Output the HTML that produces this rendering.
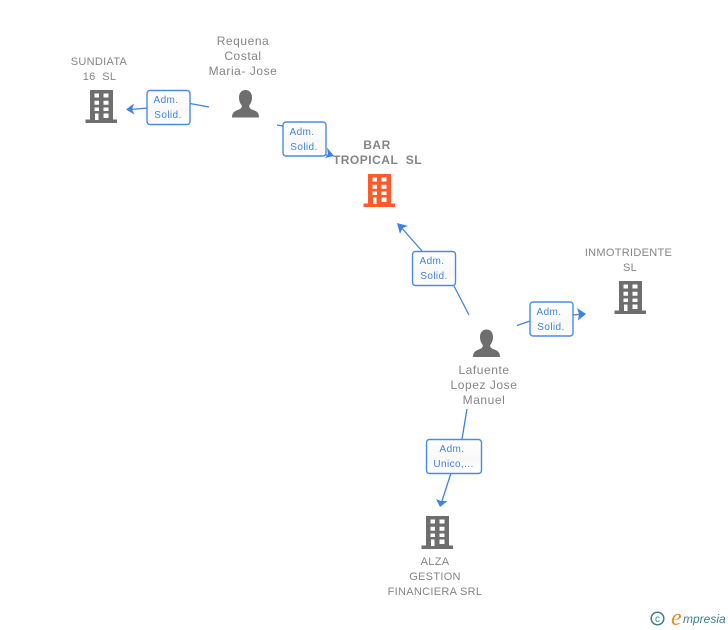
<!DOCTYPE html>
<html>
<head>
<meta charset="utf-8">
<style>
html,body{margin:0;padding:0;background:#fff}
body{width:728px;height:630px;overflow:hidden}
svg{display:block}
.n{font-family:"Liberation Sans",sans-serif;font-size:12px;fill:#858585;text-anchor:middle;letter-spacing:.55px;white-space:pre}
.s{font-size:11px;letter-spacing:.3px}
.b{font-weight:bold;letter-spacing:.5px}
.e{font-family:"Liberation Sans",sans-serif;font-size:10px;fill:#3f82e0;text-anchor:middle;letter-spacing:.4px}
.box{fill:url(#g);stroke:#4a8ae6;stroke-width:1.4}
.l{stroke:#3f82e0;stroke-width:1.3;fill:none}
.a{fill:#3f82e0}
</style>
</head>
<body>
<svg width="728" height="630" viewBox="0 0 728 630" xmlns="http://www.w3.org/2000/svg">
<defs>
<linearGradient id="g" x1="0" y1="0" x2="0" y2="1">
<stop offset="0" stop-color="#ffffff"/><stop offset=".6" stop-color="#f8f8f8"/><stop offset="1" stop-color="#ffffff"/>
</linearGradient>
<g id="bd">
<path fill-rule="evenodd" d="M5 0H28V29.500H32V33H0.500V29.500H5ZM9.500 3.500V7.500H14V3.500ZM18.500 3.500V7.500H23.500V3.500ZM9.500 10.700V14.700H14V10.700ZM18.500 10.700V14.700H23.500V10.700ZM9.500 17.500V21H14V17.500ZM18.500 17.500V21H23.500V17.500ZM10 23.500V30H13.500V23.500ZM18.500 23.500V28H23.500V23.500Z"/>
</g>
<g id="pr">
<path d="M13.500 0C17.500 0 20 3 20 7.500C20 11 18.800 13.500 17.200 15.500C17 17.500 18 18.500 20 19.500C24 21 27 22 27 27.500H0C0 22 3 21 7 19.500C9 18.500 10 17.500 9.800 15.500C8.200 13.500 7 11 7 7.500C7 3 9.500 0 13.500 0Z"/>
</g>
</defs>

<path class="l" d="M190 103.500L209 107"/>
<path class="l" d="M148 108L130 109.500"/>
<path class="a" d="M126 109.500L134 103.500L132 109.300L134.500 114.500Z"/>
<path class="l" d="M277 125L283 126"/>
<path class="l" d="M326 155L331 155.500"/>
<path class="a" d="M334 156L325 158L328 154.500L327 147.500Z"/>
<path class="l" d="M400 226L422 251"/>
<path class="a" d="M397 223L408 226L402.500 228L400 234Z"/>
<path class="l" d="M454 286L469 315"/>
<path class="l" d="M517 325.500L530 321"/>
<path class="l" d="M573 315L583 314"/>
<path class="a" d="M586 314L577 308L579 314L578 320.500Z"/>
<path class="l" d="M467 409L462 439"/>
<path class="l" d="M451 473L441 504"/>
<path class="a" d="M440 507L436 499L441 501L447.500 501Z"/>

<rect class="box" x="147" y="90.500" width="43" height="34" rx="3"/>
<rect class="box" x="283" y="122" width="43" height="34" rx="3"/>
<rect class="box" x="412.500" y="251.500" width="43" height="34" rx="3"/>
<rect class="box" x="530" y="302" width="43" height="34" rx="3"/>
<rect class="box" x="426.500" y="439.500" width="55" height="34" rx="3"/>

<text class="e" x="166" y="103">Adm.</text><text class="e" x="168" y="118">Solid.</text>
<text class="e" x="302" y="135">Adm.</text><text class="e" x="304" y="150">Solid.</text>
<text class="e" x="432" y="264">Adm.</text><text class="e" x="434" y="279">Solid.</text>
<text class="e" x="549" y="315">Adm.</text><text class="e" x="551" y="330">Solid.</text>
<text class="e" x="452" y="452">Adm.</text><text class="e" x="453.500" y="467">Unico,...</text>

<use href="#bd" x="85" y="90" fill="#6e6e6e"/>
<use href="#bd" x="363" y="174" fill="#ff5a2b"/>
<use href="#bd" x="614" y="281" fill="#6e6e6e"/>
<use href="#bd" x="421" y="516" fill="#6e6e6e"/>
<use href="#pr" x="232" y="90" fill="#6e6e6e"/>
<use href="#pr" x="473" y="329.500" fill="#6e6e6e"/>

<text class="n s" x="99" y="65">SUNDIATA</text>
<text class="n s" x="99.500" y="80">16  SL</text>
<text class="n" x="243" y="45">Requena</text>
<text class="n" x="243" y="60">Costal</text>
<text class="n" x="243" y="75">Maria- Jose</text>
<text class="n b" x="377" y="149">BAR</text>
<text class="n b" x="377.500" y="164">TROPICAL  SL</text>
<text class="n s" x="628.500" y="256">INMOTRIDENTE</text>
<text class="n s" x="630" y="271">SL</text>
<text class="n" x="484" y="374">Lafuente</text>
<text class="n" x="484" y="389">Lopez Jose</text>
<text class="n" x="484" y="404">Manuel</text>
<text class="n s" x="435" y="565">ALZA</text>
<text class="n s" x="435" y="580">GESTION</text>
<text class="n s" x="435" y="595">FINANCIERA SRL</text>

<circle cx="657.500" cy="618.500" r="6.300" fill="none" stroke="#3d7f8f" stroke-width="1.500"/>
<text x="657.500" y="622" font-family="Liberation Sans,sans-serif" font-size="10" fill="#3d7f8f" text-anchor="middle">c</text>
<text x="671" y="625" font-family="Liberation Serif,serif" font-size="24" font-style="italic" fill="#f08a1d">e</text>
<text x="683" y="623" font-family="Liberation Sans,sans-serif" font-size="12" font-style="italic" fill="#3d7f8f">mpresia</text>
</svg>
</body>
</html>
